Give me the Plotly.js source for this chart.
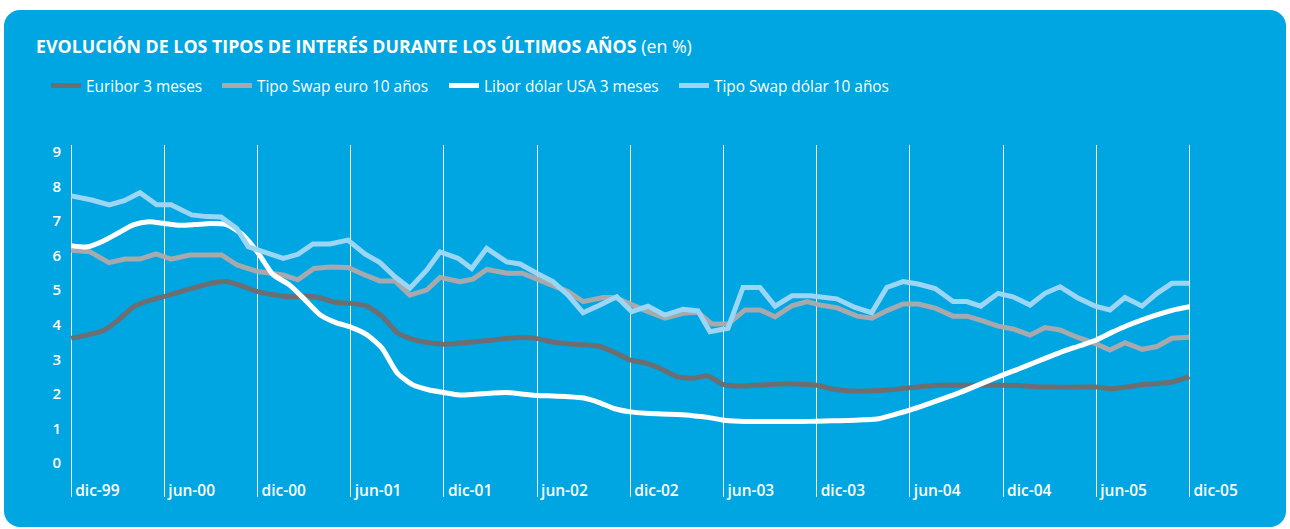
<!DOCTYPE html>
<html>
<head>
<meta charset="utf-8">
<script src="https://cdn.plot.ly/plotly-3.0.1.min.js"></script>
<style>
  html, body { margin: 0; padding: 0; background: #ffffff; width: 1290px; height: 529px; overflow: hidden; }
  #panel { position: absolute; left: 4px; top: 10px; width: 1282px; height: 517px; border-radius: 16px; background: #00a6e1; }
  #chart { position: absolute; left: 0; top: 0; width: 1290px; height: 529px; }
</style>
</head>
<body>
<div id="panel"></div>
<div id="chart"></div>
<script>
// Months counted from December 1999 (0) to December 2005 (72)
const months = [0,1,2,3,4,5,6,7,8,9,10,11,12,13,14,15,16,17,18,19,20,21,22,23,24,25,26,27,28,29,30,31,32,33,34,35,36,37,38,39,40,41,42,43,44,45,46,47,48,49,50,51,52,53,54,55,56,57,58,59,60,61,62,63,64,65,66,67,68,69,70,71,72];

const tickMonths = [0,6,12,18,24,30,36,42,48,54,60,66,72];
const tickLabels = ["dic-99","jun-00","dic-00","jun-01","dic-01","jun-02","dic-02","jun-03","dic-03","jun-04","dic-04","jun-05","dic-05"];
const yTicks = [0,1,2,3,4,5,6,7,8,9];

const seriesNames = ["Euribor 3 meses","Tipo Swap euro 10 años","Libor dólar USA 3 meses","Tipo Swap dólar 10 años"];

const euribor3m = [3.61,3.70,3.82,4.12,4.52,4.70,4.82,4.95,5.08,5.20,5.25,5.12,4.96,4.87,4.81,4.83,4.78,4.65,4.62,4.55,4.25,3.77,3.58,3.48,3.44,3.47,3.51,3.55,3.60,3.63,3.60,3.50,3.45,3.42,3.38,3.20,2.98,2.89,2.72,2.50,2.45,2.52,2.27,2.23,2.25,2.27,2.29,2.28,2.25,2.14,2.09,2.08,2.10,2.13,2.18,2.22,2.25,2.25,2.25,2.25,2.25,2.24,2.21,2.20,2.19,2.20,2.20,2.15,2.20,2.27,2.30,2.36,2.50];

const libor3m = [6.29,6.25,6.41,6.65,6.89,6.98,6.93,6.88,6.90,6.93,6.90,6.62,6.10,5.45,5.17,4.75,4.30,4.07,3.93,3.72,3.33,2.60,2.26,2.12,2.04,1.97,1.99,2.02,2.04,2.00,1.95,1.94,1.92,1.88,1.75,1.57,1.48,1.44,1.42,1.40,1.37,1.32,1.24,1.21,1.20,1.20,1.20,1.20,1.21,1.22,1.23,1.25,1.28,1.40,1.53,1.68,1.84,2.00,2.18,2.37,2.55,2.72,2.90,3.08,3.25,3.40,3.56,3.78,3.98,4.15,4.30,4.43,4.52];

const swapEuroMonths = [0,1.21,2.43,3.46,4.43,5.46,6.43,7.65,9.69,10.68,11.94,13.64,14.60,15.63,16.66,17.82,18.91,19.88,20.85,21.81,22.91,23.75,25.04,25.87,26.77,28.06,29.03,30.00,31.15,31.99,32.96,34.25,35.02,36.17,37.14,38.23,39.39,40.36,41.26,42.29,43.39,44.35,45.32,46.41,47.38,48.22,49.31,50.60,51.56,52.53,53.56,54.53,55.63,56.78,57.68,58.64,59.68,60.64,61.74,62.70,63.67,64.76,65.92,66.88,67.85,68.95,69.91,70.87,72];
const swapEuro10y = [6.16,6.11,5.80,5.90,5.90,6.05,5.90,6.02,6.02,5.73,5.55,5.44,5.30,5.63,5.67,5.66,5.44,5.27,5.27,4.86,5.01,5.37,5.25,5.32,5.60,5.49,5.49,5.31,5.10,4.96,4.67,4.79,4.79,4.55,4.38,4.19,4.33,4.36,4.02,4.02,4.43,4.43,4.23,4.55,4.67,4.57,4.49,4.25,4.19,4.41,4.60,4.60,4.48,4.25,4.25,4.12,3.96,3.88,3.70,3.92,3.85,3.64,3.46,3.27,3.48,3.29,3.37,3.61,3.64];

const swapUsdMonths = [0,1.32,2.45,3.42,4.43,5.51,6.43,7.76,8.73,9.65,10.66,11.40,13.66,14.60,15.57,16.66,17.82,18.91,19.88,20.85,21.81,22.89,23.75,24.93,25.79,26.75,28.04,28.90,29.97,31.02,31.99,32.96,34.05,35.13,36.09,37.14,38.23,39.39,40.36,41.13,42.29,43.26,44.35,45.32,46.41,47.57,49.29,50.47,51.54,52.51,53.56,54.53,55.63,56.78,57.66,58.56,59.68,60.64,61.74,62.70,63.67,64.76,65.92,66.88,67.85,68.95,69.91,70.87,72];
const swapUsd10y = [7.73,7.61,7.47,7.59,7.82,7.47,7.47,7.18,7.13,7.12,6.79,6.26,5.92,6.04,6.34,6.34,6.45,6.05,5.80,5.39,5.06,5.58,6.11,5.92,5.63,6.21,5.82,5.76,5.49,5.25,4.86,4.35,4.57,4.81,4.38,4.54,4.28,4.45,4.40,3.80,3.90,5.08,5.08,4.54,4.84,4.84,4.75,4.50,4.35,5.08,5.25,5.18,5.05,4.67,4.67,4.54,4.91,4.81,4.57,4.91,5.10,4.79,4.54,4.43,4.79,4.54,4.91,5.20,5.20];

const FONT = "'Open Sans', 'Noto Sans', sans-serif";
const LW = 5;

const traces = [
  { x: months, y: euribor3m, name: seriesNames[0], type: 'scatter', mode: 'lines', legend: 'legend',
    line: { color: '#6d6e71', width: LW, shape: 'spline', smoothing: 0.5 } },
  { x: swapEuroMonths, y: swapEuro10y, name: seriesNames[1], type: 'scatter', mode: 'lines', legend: 'legend2',
    line: { color: '#a7a9ac', width: LW } },
  { x: months, y: libor3m, name: seriesNames[2], type: 'scatter', mode: 'lines', legend: 'legend3',
    line: { color: '#ffffff', width: LW, shape: 'spline', smoothing: 0.6 } },
  { x: swapUsdMonths, y: swapUsd10y, name: seriesNames[3], type: 'scatter', mode: 'lines', legend: 'legend4',
    line: { color: '#9dd6f5', width: LW } }
];

function legendAt(px) {
  return {
    orientation: 'h',
    xref: 'container', x: px / 1290, xanchor: 'left',
    yref: 'container', y: 1 - 86 / 529, yanchor: 'middle',
    font: { family: FONT, size: 15.4, color: '#ffffff' },
    bgcolor: 'rgba(0,0,0,0)',
    itemwidth: 30
  };
}

const layout = {
  width: 1290, height: 529,
  paper_bgcolor: 'rgba(0,0,0,0)',
  plot_bgcolor: 'rgba(0,0,0,0)',
  margin: { l: 62, r: 40, t: 145, b: 32, pad: 0 },
  font: { family: FONT, color: '#ffffff', size: 14 },
  title: {
    text: '<b>EVOLUCIÓN DE LOS TIPOS DE INTERÉS DURANTE LOS ÚLTIMOS AÑOS</b> (en %)',
    font: { family: FONT, size: 17.8, color: '#ffffff' },
    x: 36 / 1290, xref: 'container', xanchor: 'left',
    y: 1 - 47 / 529, yref: 'container', yanchor: 'middle'
  },
  showlegend: true,
  legend: legendAt(46),
  legend2: legendAt(217),
  legend3: legendAt(444),
  legend4: legendAt(674),
  xaxis: {
    type: 'linear',
    range: [-0.59, 75.9],
    tickmode: 'array', tickvals: tickMonths, ticktext: tickLabels,
    ticks: '', showgrid: true, gridcolor: '#ffffff', gridwidth: 1,
    zeroline: false, showline: false,
    ticklabelposition: 'inside right',
    ticklabelstandoff: -8,
    ticklabelshift: 4,
    tickfont: { family: FONT, size: 15.5, color: '#ffffff', weight: 600 },
    fixedrange: true
  },
  yaxis: {
    range: [-0.984, 9.2025],
    tickmode: 'array', tickvals: yTicks,
    ticks: '', showgrid: false, zeroline: false, showline: false,
    tickfont: { family: FONT, size: 15, color: '#ffffff', weight: 600 },
    fixedrange: true
  }
};

Plotly.newPlot('chart', traces, layout, { staticPlot: true, displayModeBar: false });
</script>
</body>
</html>
